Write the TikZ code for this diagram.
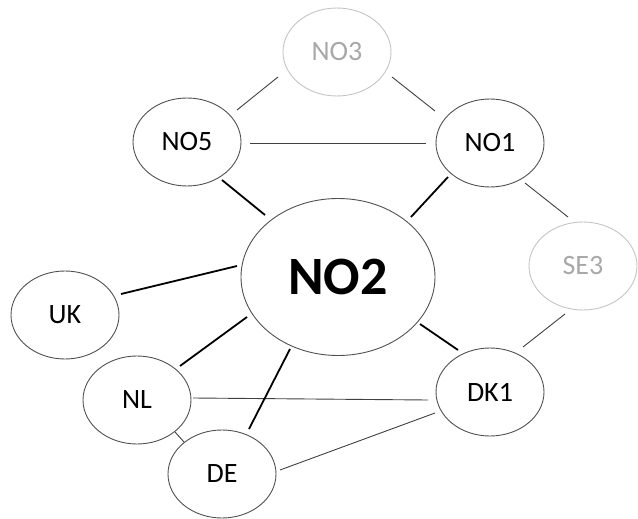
\documentclass[tikz,border=0pt]{standalone}
\usepackage{fontspec}
\setmainfont{Carlito}
\usetikzlibrary{shapes.geometric,calc}
\definecolor{outl}{HTML}{505050}
\definecolor{lgray}{HTML}{C4C4C4}
\definecolor{tgray}{HTML}{A8A8A8}
\definecolor{thinc}{HTML}{404040}
\tikzset{
  area/.style={ellipse,draw=outl,line width=0.9pt,inner sep=0pt,minimum width=108pt,minimum height=88pt,font=\fontsize{28}{30}\selectfont,text=black},
  farea/.style={area,draw=lgray,text=tgray},
  hub/.style={area,minimum width=194pt,minimum height=157pt,font=\fontsize{54}{58}\selectfont\bfseries},
  thick link/.style={draw=black,line width=1.8pt},
  thin link/.style={draw=thinc,line width=0.9pt}
}
\begin{document}
\begin{tikzpicture}[x=1pt,y=-1pt]
\useasboundingbox (0,0) rectangle (638,519);
\node[farea] (NO3) at (337,52) {NO3};
\node[area] (NO5) at (187,142) {NO5};
\node[area] (NO1) at (490,143) {NO1};
\node[hub] (NO2) at (338,277) {NO2};
\node[farea] (SE3) at (583,266) {SE3};
\node[area] (UK) at (65,315) {UK};
\node[area] (NL) at (137,400) {NL};
\node[area] (DK1) at (490,392) {DK1};
\node[area] (DE) at (222,474) {DE};
% thin links
\draw[thin link] ($(NO5)+(50,-32)$) -- ($(NO3)+(-59,25)$);
\draw[thin link] ($(NO3)+(55,25)$) -- ($(NO1)+(-55,-32)$);
\draw[thin link] ($(NO5)+(63,1)$) -- ($(NO1)+(-64,0)$);
\draw[thin link] ($(NO1)+(35,40)$) -- ($(SE3)+(-15,-49)$);
\draw[thin link] ($(SE3)+(-18,48)$) -- ($(DK1)+(33,-45)$);
\draw[thin link] ($(NL)+(56,-2)$) -- ($(DK1)+(-62,8)$);
\draw[thin link] ($(NL)+(38,32)$) -- ($(DE)+(-38,-32)$);
\draw[thin link] ($(DE)+(58,-4)$) -- ($(DK1)+(-55,21)$);
% links to NO2
\draw[thick link] ($(NO5)+(35,38)$) -- ($(NO2)+(-73,-62)$);
\draw[thick link] ($(NO1)+(-42,34)$) -- ($(NO2)+(73,-60)$);
\draw[thick link] ($(NO2)+(82,47)$) -- ($(DK1)+(-32,-42)$);
\draw[thick link] ($(UK)+(56,-21)$) -- ($(NO2)+(-101,-11)$);
\draw[thick link] ($(NL)+(43,-34)$) -- ($(NO2)+(-91,40)$);
\draw[thick link] ($(NO2)+(-48,72)$) -- ($(DE)+(27,-45)$);
\end{tikzpicture}
\end{document}
